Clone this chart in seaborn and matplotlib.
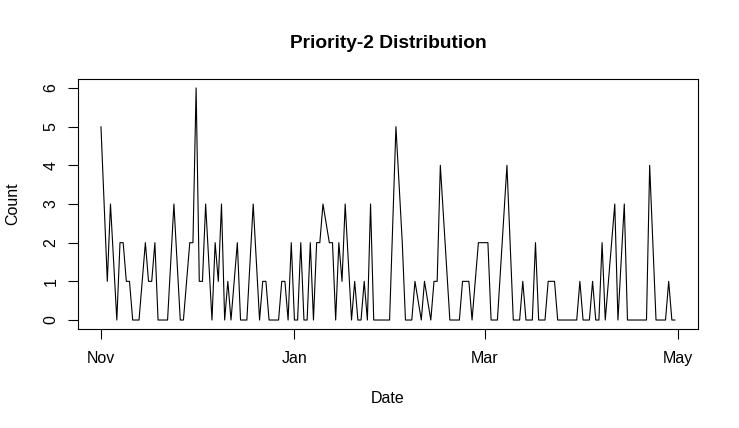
import pandas as pd
import matplotlib
matplotlib.use("Agg")
import matplotlib.pyplot as plt
import seaborn as sns

# data: day offset from 2015-11-01 and the count for that day
start = "2015-11-01"
day = [0, 2, 3, 5, 6, 7, 8, 9, 10, 12, 14, 15, 16, 17, 18, 21, 23, 25, 26, 28,
       29, 30, 31, 32, 33, 35, 36, 37, 38, 39, 40, 41, 43, 44, 46, 48, 50, 51, 52, 53,
       56, 57, 58, 59, 60, 61, 62, 63, 64, 65, 66, 67, 68, 69, 70, 72, 73, 74, 75, 76,
       77, 79, 80, 81, 82, 83, 84, 85, 86, 91, 93, 95, 96, 98, 99, 101, 102, 104, 105, 106,
       107, 110, 113, 114, 116, 117, 119, 122, 123, 125, 128, 130, 132, 133, 134, 136, 137, 138, 140, 141,
       143, 144, 150, 151, 152, 154, 155, 156, 157, 158, 159, 162, 163, 165, 166, 172, 173, 175, 178, 179,
       180, 181]
count = [5, 1, 3, 0, 2, 2, 1, 1, 0, 0, 2, 1, 1, 2, 0, 0, 3, 0, 0, 2,
         2, 6, 1, 1, 3, 0, 2, 1, 3, 0, 1, 0, 2, 0, 0, 3, 0, 1, 1, 0,
         0, 1, 1, 0, 2, 0, 0, 2, 0, 0, 2, 0, 2, 2, 3, 2, 2, 0, 2, 1,
         3, 0, 1, 0, 0, 1, 0, 3, 0, 0, 5, 2, 0, 0, 1, 0, 1, 0, 1, 1,
         4, 0, 0, 1, 1, 0, 2, 2, 0, 0, 4, 0, 0, 1, 0, 0, 2, 0, 0, 1,
         1, 0, 0, 1, 0, 0, 1, 0, 0, 2, 0, 3, 0, 3, 0, 0, 4, 0, 0, 1,
         0, 0]
tick_dates = ["2015-11-01", "2016-01-01", "2016-03-01", "2016-05-01"]
tick_labels = ["Nov", "Jan", "Mar", "May"]

df = pd.DataFrame({
    "Date": pd.Timestamp(start) + pd.to_timedelta(day, unit="D"),
    "Count": count,
})

sns.set_theme(style="white")
plt.rcParams["font.family"] = ["Liberation Sans", "DejaVu Sans"]
plt.rcParams["text.color"] = "black"

W, H = 739, 428
fig = plt.figure(figsize=(W / 100, H / 100), dpi=100)
ax = fig.add_axes([78 / W, 1 - 329.3 / H, 620 / W, 250.6 / H])

sns.lineplot(data=df, x="Date", y="Count", color="black", linewidth=0.8, ax=ax)
ax.margins(x=0.04, y=0.04)

for s in ax.spines.values():
    s.set_color("black")
    s.set_linewidth(0.8)

ax.set_xticks(pd.to_datetime(tick_dates))
ax.set_xticklabels(tick_labels)
ax.set_yticks(range(0, 7))
ax.tick_params(axis="both", direction="out", length=6.9, width=0.8, color="black",
               labelsize=11.5, labelcolor="black", bottom=True, left=True)
ax.tick_params(axis="x", pad=8.5)
ax.tick_params(axis="y", pad=7, labelrotation=90)
for lab in ax.get_yticklabels():
    lab.set_va("center")

ax.set_title("Priority-2 Distribution", fontsize=13.8, fontweight="bold", pad=22, color="black")
ax.set_xlabel("Date", fontsize=11.5, color="black")
ax.set_ylabel("Count", fontsize=11.5, color="black")
ax.xaxis.set_label_coords(0.5, -(391 - 329.3) / 250.6)
ax.yaxis.set_label_coords(-(78 - 20) / 620, 0.5)
ax.xaxis.label.set_va("top")

fig.savefig("out.png", dpi=100, facecolor="white")
